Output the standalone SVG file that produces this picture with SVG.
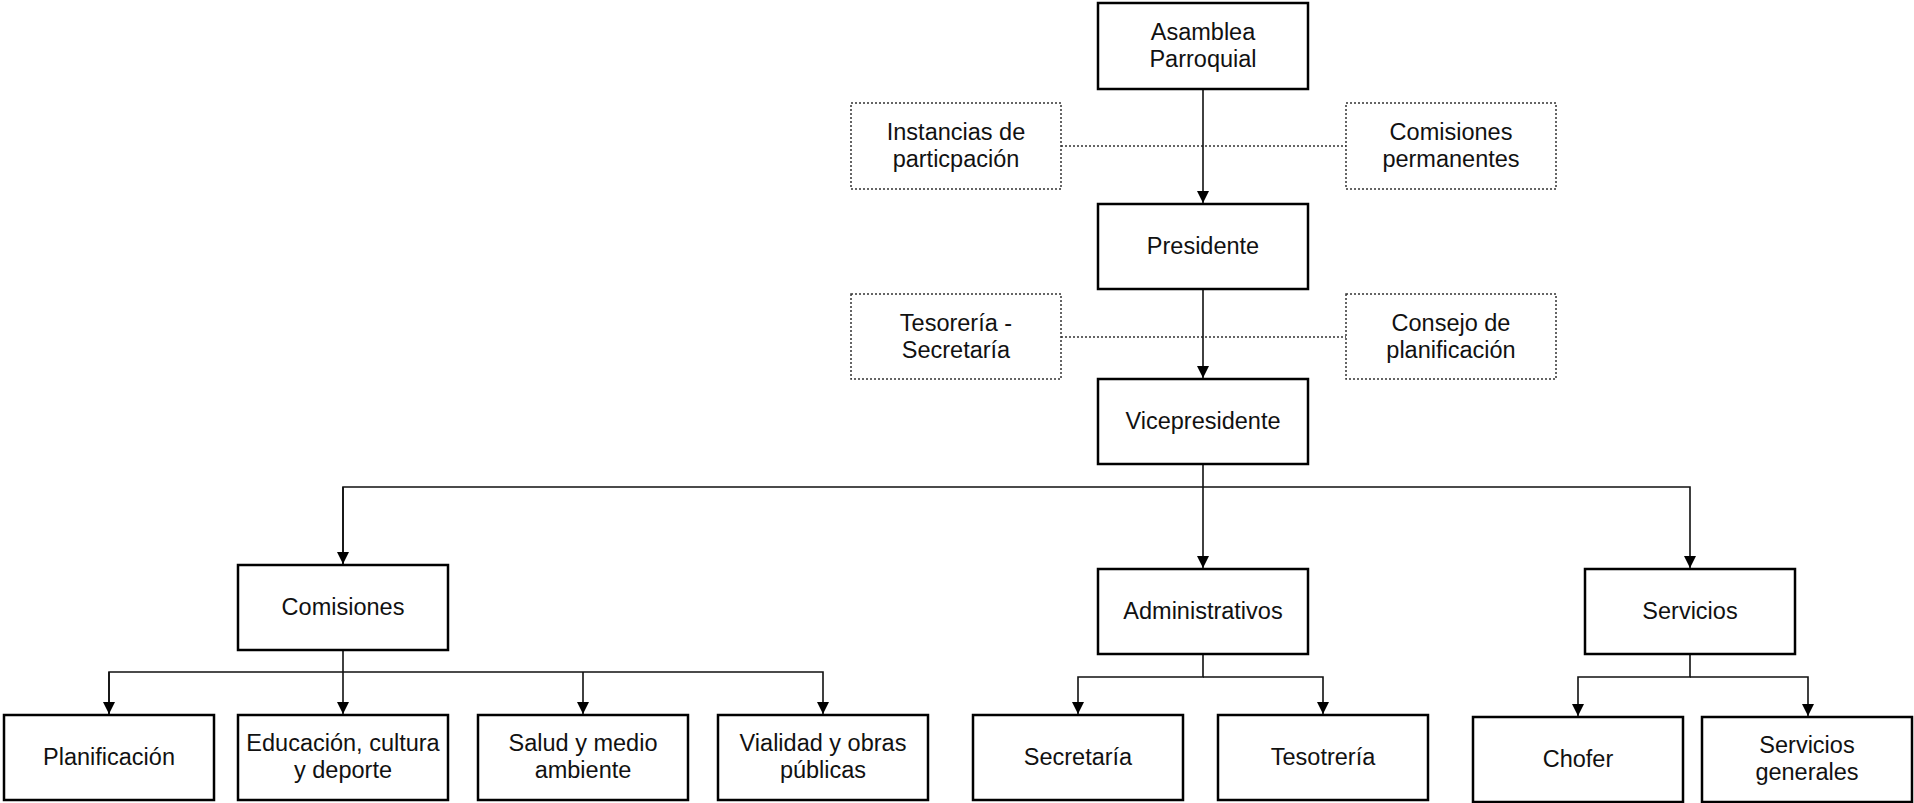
<svg xmlns="http://www.w3.org/2000/svg" width="1914" height="803" viewBox="0 0 1914 803">
<defs>
<style>
.box{fill:#fff;stroke:#000;stroke-width:2.5}
.dbox{fill:#fff;stroke:#333;stroke-width:1.5;stroke-dasharray:2 2}
.t{font-family:"Liberation Sans",Arial,sans-serif;font-size:23.5px;fill:#111;text-anchor:middle}
.c{fill:none;stroke:#111;stroke-width:1.6}
.d{fill:none;stroke:#333;stroke-width:1.5;stroke-dasharray:2 2}
</style>
<marker id="ah" viewBox="0 0 12 12" refX="12" refY="6" markerWidth="12" markerHeight="12" markerUnits="userSpaceOnUse" orient="auto">
<path d="M0,0 L12,6 L0,12 z" fill="#000"/>
</marker>
</defs>
<rect width="1914" height="803" fill="#fff"/>
<g id="connectors">
<line class="d" x1="1061" y1="146" x2="1346" y2="146"/>
<line class="d" x1="1061" y1="337" x2="1346" y2="337"/>
<line class="c" x1="1203" y1="89" x2="1203" y2="203" marker-end="url(#ah)"/>
<line class="c" x1="1203" y1="289" x2="1203" y2="378" marker-end="url(#ah)"/>
<line class="c" x1="1203" y1="464" x2="1203" y2="568" marker-end="url(#ah)"/>
<polyline class="c" points="343,564 343,487 1690,487 1690,568" marker-end="url(#ah)"/>
<line class="c" x1="343" y1="487" x2="343" y2="564" marker-end="url(#ah)"/>
<line class="c" x1="343" y1="650" x2="343" y2="714" marker-end="url(#ah)"/>
<polyline class="c" points="109,714 109,672 823,672 823,714" marker-end="url(#ah)"/>
<line class="c" x1="109" y1="672" x2="109" y2="714" marker-end="url(#ah)"/>
<line class="c" x1="583" y1="672" x2="583" y2="714" marker-end="url(#ah)"/>
<polyline class="c" points="1203,654 1203,677 1078,677 1078,714" marker-end="url(#ah)"/>
<polyline class="c" points="1203,677 1323,677 1323,714" marker-end="url(#ah)"/>
<polyline class="c" points="1690,654 1690,677 1578,677 1578,716" marker-end="url(#ah)"/>
<polyline class="c" points="1690,677 1808,677 1808,716" marker-end="url(#ah)"/>
</g>
<g id="asamblea"><rect class="box" x="1098" y="3" width="210" height="86"/><text class="t" x="1203" y="40">Asamblea</text><text class="t" x="1203" y="67">Parroquial</text></g>
<g id="instancias"><rect class="dbox" x="851" y="103" width="210" height="86"/><text class="t" x="956" y="140">Instancias de</text><text class="t" x="956" y="167">particpación</text></g>
<g id="comisiones-permanentes"><rect class="dbox" x="1346" y="103" width="210" height="86"/><text class="t" x="1451" y="140">Comisiones</text><text class="t" x="1451" y="167">permanentes</text></g>
<g id="presidente"><rect class="box" x="1098" y="204" width="210" height="85"/><text class="t" x="1203" y="254">Presidente</text></g>
<g id="tesoreria-secretaria"><rect class="dbox" x="851" y="294" width="210" height="85"/><text class="t" x="956" y="331">Tesorería -</text><text class="t" x="956" y="358">Secretaría</text></g>
<g id="consejo"><rect class="dbox" x="1346" y="294" width="210" height="85"/><text class="t" x="1451" y="331">Consejo de</text><text class="t" x="1451" y="358">planificación</text></g>
<g id="vicepresidente"><rect class="box" x="1098" y="379" width="210" height="85"/><text class="t" x="1203" y="429">Vicepresidente</text></g>
<g id="comisiones"><rect class="box" x="238" y="565" width="210" height="85"/><text class="t" x="343" y="615">Comisiones</text></g>
<g id="administrativos"><rect class="box" x="1098" y="569" width="210" height="85"/><text class="t" x="1203" y="619">Administrativos</text></g>
<g id="servicios"><rect class="box" x="1585" y="569" width="210" height="85"/><text class="t" x="1690" y="619">Servicios</text></g>
<g id="planificacion"><rect class="box" x="4" y="715" width="210" height="85"/><text class="t" x="109" y="765">Planificación</text></g>
<g id="educacion"><rect class="box" x="238" y="715" width="210" height="85"/><text class="t" x="343" y="751">Educación, cultura</text><text class="t" x="343" y="778">y deporte</text></g>
<g id="salud"><rect class="box" x="478" y="715" width="210" height="85"/><text class="t" x="583" y="751">Salud y medio</text><text class="t" x="583" y="778">ambiente</text></g>
<g id="vialidad"><rect class="box" x="718" y="715" width="210" height="85"/><text class="t" x="823" y="751">Vialidad y obras</text><text class="t" x="823" y="778">públicas</text></g>
<g id="secretaria"><rect class="box" x="973" y="715" width="210" height="85"/><text class="t" x="1078" y="765">Secretaría</text></g>
<g id="tesotreria"><rect class="box" x="1218" y="715" width="210" height="85"/><text class="t" x="1323" y="765">Tesotrería</text></g>
<g id="chofer"><rect class="box" x="1473" y="717" width="210" height="85"/><text class="t" x="1578" y="767">Chofer</text></g>
<g id="servicios-generales"><rect class="box" x="1702" y="717" width="210" height="85"/><text class="t" x="1807" y="753">Servicios</text><text class="t" x="1807" y="780">generales</text></g>
</svg>
